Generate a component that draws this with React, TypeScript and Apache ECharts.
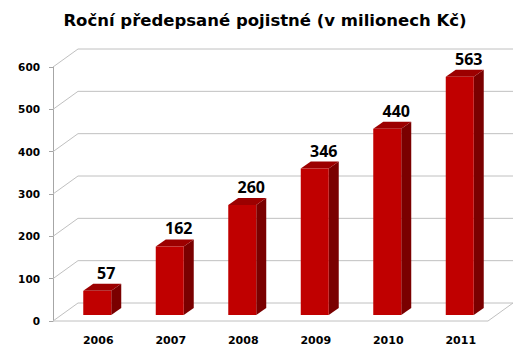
import React, { useEffect, useRef } from 'react';
import * as echarts from 'echarts';

const years = ['2006', '2007', '2008', '2009', '2010', '2011'];
const premiums = [57, 162, 260, 346, 440, 563];
const yTicks = [0, 100, 200, 300, 400, 500, 600];
const titleText = 'Roční předepsané pojistné (v milionech Kč)';

export default function App() {
  const ref = useRef<HTMLDivElement>(null);
  useEffect(() => {
    document.body.style.margin = '0';
    const chart = echarts.init(ref.current as HTMLDivElement, null, { renderer: 'svg' });
    const DX = 25, DY = -18; // wall depth
    const OX = 8, OY = -6; // bar front offset
    const BDX = 10, BDY = -7; // bar depth
    const gridColor = '#c0c0c0';

    chart.setOption({
      animation: false,
      title: {
        text: titleText,
        left: 'center',
        top: 7,
        textStyle: { fontFamily: 'DejaVu Sans', fontWeight: 'bold', fontSize: 16.5, color: '#000' },
      },
      grid: { left: 53, right: 42, top: 67, bottom: 36 },
      xAxis: {
        type: 'category',
        data: years,
        axisLine: { show: false },
        axisTick: { show: false },
        axisLabel: {
          fontFamily: 'DejaVu Sans', fontWeight: 'bold', fontSize: 11, color: '#000',
          margin: 14, padding: [0, 0, 0, 18],
        },
      },
      yAxis: {
        type: 'value',
        min: 0,
        max: 600,
        interval: 100,
        axisLine: { show: true, lineStyle: { color: '#a6a6a6', width: 1 } },
        axisTick: { show: true, length: 4, lineStyle: { color: '#a6a6a6' } },
        splitLine: { show: false },
        axisLabel: { fontFamily: 'DejaVu Sans', fontWeight: 'bold', fontSize: 10.5, color: '#000', margin: 13 },
      },
      series: [
        {
          type: 'custom',
          name: 'walls',
          clip: false,
          silent: true,
          z: 1,
          data: yTicks.map((t) => [0, t]),
          encode: { x: 0, y: 1 },
          renderItem: (params: any, api: any) => {
            const cs = params.coordSys;
            const y = api.coord([0, api.value(1)])[1];
            const children: any[] = [
              {
                type: 'polyline',
                shape: { points: [[cs.x, y], [cs.x + DX, y + DY], [cs.x + cs.width + DX, y + DY]] },
                style: { stroke: gridColor, lineWidth: 1, fill: 'none' },
              },
            ];
            if (api.value(1) === 0) {
              children.push({
                type: 'polyline',
                shape: { points: [[cs.x, y], [cs.x + cs.width, y], [cs.x + cs.width + DX, y + DY]] },
                style: { stroke: gridColor, lineWidth: 1, fill: 'none' },
              });
            }
            return { type: 'group', children };
          },
        },
        {
          type: 'custom',
          name: 'Pojistné',
          clip: false,
          z: 3,
          data: premiums.map((v, i) => [i, v]),
          encode: { x: 0, y: 1 },
          renderItem: (params: any, api: any) => {
            const base = api.coord([api.value(0), 0]);
            const top = api.coord([api.value(0), api.value(1)]);
            const band = api.size([1, 0])[0];
            const w = band * 0.386;
            const x = base[0] - w / 2 + OX;
            const yt = top[1] + OY;
            const yb = base[1] + OY;
            return {
              type: 'group',
              children: [
                {
                  type: 'polygon',
                  shape: { points: [[x + w, yt], [x + w + BDX, yt + BDY], [x + w + BDX, yb + BDY], [x + w, yb]] },
                  style: { fill: '#7a0000' },
                },
                {
                  type: 'polygon',
                  shape: { points: [[x, yt], [x + BDX, yt + BDY], [x + w + BDX, yt + BDY], [x + w, yt]] },
                  style: { fill: '#9c0000' },
                },
                {
                  type: 'rect',
                  shape: { x, y: yt, width: w, height: yb - yt },
                  style: { fill: '#c00000' },
                },
                {
                  type: 'text',
                  x: x + w / 2 + 9,
                  y: yt + BDY - 3,
                  style: {
                    text: String(api.value(1)),
                    fontFamily: 'Open Sans',
                    fontWeight: 'bold',
                    fontSize: 16,
                    fill: '#000',
                    align: 'center',
                    verticalAlign: 'bottom',
                  },
                },
              ],
            };
          },
        },
      ],
    });
    return () => chart.dispose();
  }, []);
  return <div ref={ref} style={{ width: 530, height: 357 }} />;
}
